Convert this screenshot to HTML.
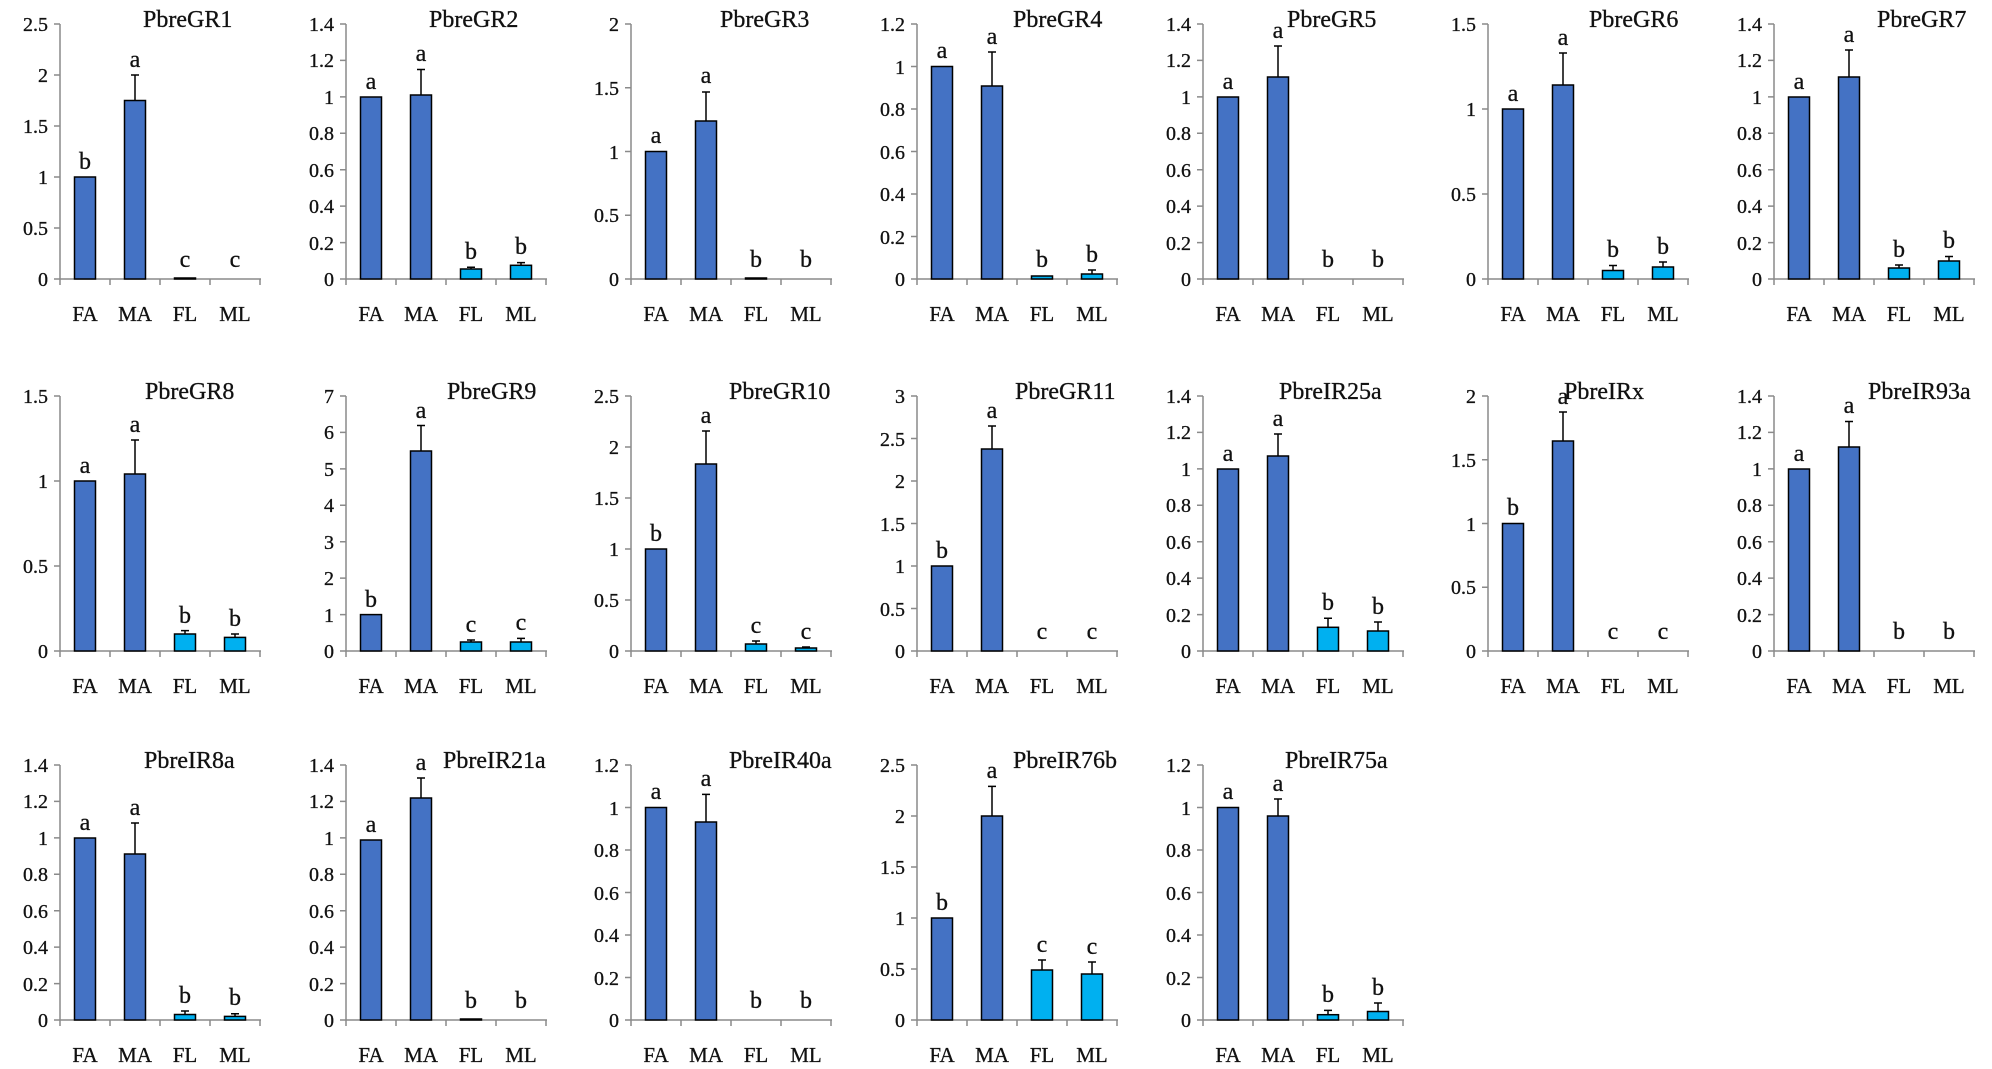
<!DOCTYPE html>
<html><head><meta charset="utf-8"><style>
body{margin:0;background:#fff}
svg{display:block;font-family:"Liberation Serif",serif}
text{fill:#111;stroke:#111;stroke-width:0.3}
.ax{fill:none;stroke:#8a8a8a;stroke-width:1.5}
.d{fill:#4472C4;stroke:#000;stroke-width:1.5}
.l{fill:#00B0F0;stroke:#000;stroke-width:1.5}
.e{fill:none;stroke:#000;stroke-width:1.5}
.yt{font-size:20px;text-anchor:end}
.xt{font-size:21px;text-anchor:middle}
.lt{font-size:24px;text-anchor:middle}
.tt{font-size:24px}
</style></head><body>
<svg width="1992" height="1069" viewBox="0 0 1992 1069" xmlns="http://www.w3.org/2000/svg">
<defs>
<g id="base">
<path class="ax" d="M0 -255V0H201M-6 0H0M0 0V6M50 0V6M100 0V6M150 0V6M200 0V6"/>
<text class="xt" x="25" y="42">FA</text><text class="xt" x="75" y="42">MA</text><text class="xt" x="125" y="42">FL</text><text class="xt" x="175" y="42">ML</text>
</g>
</defs>

<!-- GR1 -->
<g transform="translate(60,279)"><use href="#base"/>
<text class="tt" x="83" y="-252">PbreGR1</text>
<path class="ax" d="M-6 -51H0M-6 -102H0M-6 -153H0M-6 -204H0M-6 -255H0"/>
<text class="yt" x="-12" y="7">0</text><text class="yt" x="-12" y="-44">0.5</text><text class="yt" x="-12" y="-95">1</text><text class="yt" x="-12" y="-146">1.5</text><text class="yt" x="-12" y="-197">2</text><text class="yt" x="-12" y="-248">2.5</text>
<rect class="d" x="14.5" y="-102" width="21" height="102"/><rect class="d" x="64.5" y="-178.5" width="21" height="178.5"/><rect class="l" x="114.5" y="-1" width="21" height="1"/>
<path class="e" d="M75 -178.5V-204M71 -204H79"/>
<text class="lt" x="25" y="-110">b</text><text class="lt" x="75" y="-212">a</text><text class="lt" x="125" y="-12">c</text><text class="lt" x="175" y="-12">c</text>
</g>

<!-- GR2 -->
<g transform="translate(346,279)"><use href="#base"/>
<text class="tt" x="83" y="-252">PbreGR2</text>
<path class="ax" d="M-6 -36.4H0M-6 -72.9H0M-6 -109.3H0M-6 -145.7H0M-6 -182.1H0M-6 -218.6H0M-6 -255H0"/>
<text class="yt" x="-12" y="7">0</text><text class="yt" x="-12" y="-29">0.2</text><text class="yt" x="-12" y="-66">0.4</text><text class="yt" x="-12" y="-102">0.6</text><text class="yt" x="-12" y="-139">0.8</text><text class="yt" x="-12" y="-175">1</text><text class="yt" x="-12" y="-212">1.2</text><text class="yt" x="-12" y="-248">1.4</text>
<rect class="d" x="14.5" y="-182" width="21" height="182"/><rect class="d" x="64.5" y="-184" width="21" height="184"/><rect class="l" x="114.5" y="-10" width="21" height="10"/><rect class="l" x="164.5" y="-13.7" width="21" height="13.7"/>
<path class="e" d="M75 -184V-209.5M71 -209.5H79M125 -10V-11.8M121 -11.8H129M175 -13.7V-16.4M171 -16.4H179"/>
<text class="lt" x="25" y="-190">a</text><text class="lt" x="75" y="-218">a</text><text class="lt" x="125" y="-20">b</text><text class="lt" x="175" y="-25">b</text>
</g>

<!-- GR3 -->
<g transform="translate(631,279)"><use href="#base"/>
<text class="tt" x="89" y="-252">PbreGR3</text>
<path class="ax" d="M-6 -63.75H0M-6 -127.5H0M-6 -191.25H0M-6 -255H0"/>
<text class="yt" x="-12" y="7">0</text><text class="yt" x="-12" y="-57">0.5</text><text class="yt" x="-12" y="-120">1</text><text class="yt" x="-12" y="-184">1.5</text><text class="yt" x="-12" y="-248">2</text>
<rect class="d" x="14.5" y="-127.5" width="21" height="127.5"/><rect class="d" x="64.5" y="-158" width="21" height="158"/><rect class="l" x="114.5" y="-1" width="21" height="1"/>
<path class="e" d="M75 -158V-187M71 -187H79"/>
<text class="lt" x="25" y="-136">a</text><text class="lt" x="75" y="-196">a</text><text class="lt" x="125" y="-12">b</text><text class="lt" x="175" y="-12">b</text>
</g>

<!-- GR4 -->
<g transform="translate(917,279)"><use href="#base"/>
<text class="tt" x="96" y="-252">PbreGR4</text>
<path class="ax" d="M-6 -42.5H0M-6 -85H0M-6 -127.5H0M-6 -170H0M-6 -212.5H0M-6 -255H0"/>
<text class="yt" x="-12" y="7">0</text><text class="yt" x="-12" y="-35">0.2</text><text class="yt" x="-12" y="-78">0.4</text><text class="yt" x="-12" y="-120">0.6</text><text class="yt" x="-12" y="-163">0.8</text><text class="yt" x="-12" y="-205">1</text><text class="yt" x="-12" y="-248">1.2</text>
<rect class="d" x="14.5" y="-212.5" width="21" height="212.5"/><rect class="d" x="64.5" y="-193" width="21" height="193"/><rect class="l" x="114.5" y="-3" width="21" height="3"/><rect class="l" x="164.5" y="-5" width="21" height="5"/>
<path class="e" d="M75 -193V-227M71 -227H79M175 -5V-9M171 -9H179"/>
<text class="lt" x="25" y="-221">a</text><text class="lt" x="75" y="-235">a</text><text class="lt" x="125" y="-12">b</text><text class="lt" x="175" y="-17">b</text>
</g>

<!-- GR5 -->
<g transform="translate(1203,279)"><use href="#base"/>
<text class="tt" x="84" y="-252">PbreGR5</text>
<path class="ax" d="M-6 -36.4H0M-6 -72.9H0M-6 -109.3H0M-6 -145.7H0M-6 -182.1H0M-6 -218.6H0M-6 -255H0"/>
<text class="yt" x="-12" y="7">0</text><text class="yt" x="-12" y="-29">0.2</text><text class="yt" x="-12" y="-66">0.4</text><text class="yt" x="-12" y="-102">0.6</text><text class="yt" x="-12" y="-139">0.8</text><text class="yt" x="-12" y="-175">1</text><text class="yt" x="-12" y="-212">1.2</text><text class="yt" x="-12" y="-248">1.4</text>
<rect class="d" x="14.5" y="-182" width="21" height="182"/><rect class="d" x="64.5" y="-202" width="21" height="202"/>
<path class="e" d="M75 -202V-233M71 -233H79"/>
<text class="lt" x="25" y="-190">a</text><text class="lt" x="75" y="-241">a</text><text class="lt" x="125" y="-12">b</text><text class="lt" x="175" y="-12">b</text>
</g>

<!-- GR6 -->
<g transform="translate(1488,279)"><use href="#base"/>
<text class="tt" x="101" y="-252">PbreGR6</text>
<path class="ax" d="M-6 -85H0M-6 -170H0M-6 -255H0"/>
<text class="yt" x="-12" y="7">0</text><text class="yt" x="-12" y="-78">0.5</text><text class="yt" x="-12" y="-163">1</text><text class="yt" x="-12" y="-248">1.5</text>
<rect class="d" x="14.5" y="-170" width="21" height="170"/><rect class="d" x="64.5" y="-194" width="21" height="194"/><rect class="l" x="114.5" y="-8.5" width="21" height="8.5"/><rect class="l" x="164.5" y="-12" width="21" height="12"/>
<path class="e" d="M75 -194V-226M71 -226H79M125 -8.5V-13.5M121 -13.5H129M175 -12V-17M171 -17H179"/>
<text class="lt" x="25" y="-178">a</text><text class="lt" x="75" y="-234">a</text><text class="lt" x="125" y="-22">b</text><text class="lt" x="175" y="-25">b</text>
</g>

<!-- GR7 -->
<g transform="translate(1774,279)"><use href="#base"/>
<text class="tt" x="103" y="-252">PbreGR7</text>
<path class="ax" d="M-6 -36.4H0M-6 -72.9H0M-6 -109.3H0M-6 -145.7H0M-6 -182.1H0M-6 -218.6H0M-6 -255H0"/>
<text class="yt" x="-12" y="7">0</text><text class="yt" x="-12" y="-29">0.2</text><text class="yt" x="-12" y="-66">0.4</text><text class="yt" x="-12" y="-102">0.6</text><text class="yt" x="-12" y="-139">0.8</text><text class="yt" x="-12" y="-175">1</text><text class="yt" x="-12" y="-212">1.2</text><text class="yt" x="-12" y="-248">1.4</text>
<rect class="d" x="14.5" y="-182" width="21" height="182"/><rect class="d" x="64.5" y="-202" width="21" height="202"/><rect class="l" x="114.5" y="-11" width="21" height="11"/><rect class="l" x="164.5" y="-18" width="21" height="18"/>
<path class="e" d="M75 -202V-229M71 -229H79M125 -11V-14M121 -14H129M175 -18V-22.5M171 -22.5H179"/>
<text class="lt" x="25" y="-190">a</text><text class="lt" x="75" y="-237">a</text><text class="lt" x="125" y="-22">b</text><text class="lt" x="175" y="-31">b</text>
</g>

<!-- GR8 -->
<g transform="translate(60,651)"><use href="#base"/>
<text class="tt" x="85" y="-252">PbreGR8</text>
<path class="ax" d="M-6 -85H0M-6 -170H0M-6 -255H0"/>
<text class="yt" x="-12" y="7">0</text><text class="yt" x="-12" y="-78">0.5</text><text class="yt" x="-12" y="-163">1</text><text class="yt" x="-12" y="-248">1.5</text>
<rect class="d" x="14.5" y="-170" width="21" height="170"/><rect class="d" x="64.5" y="-177" width="21" height="177"/><rect class="l" x="114.5" y="-17" width="21" height="17"/><rect class="l" x="164.5" y="-13.6" width="21" height="13.6"/>
<path class="e" d="M75 -177V-211M71 -211H79M125 -17V-20.4M121 -20.4H129M175 -13.6V-17M171 -17H179"/>
<text class="lt" x="25" y="-178">a</text><text class="lt" x="75" y="-219">a</text><text class="lt" x="125" y="-28">b</text><text class="lt" x="175" y="-25">b</text>
</g>

<!-- GR9 -->
<g transform="translate(346,651)"><use href="#base"/>
<text class="tt" x="101" y="-252">PbreGR9</text>
<path class="ax" d="M-6 -36.4H0M-6 -72.9H0M-6 -109.3H0M-6 -145.7H0M-6 -182.1H0M-6 -218.6H0M-6 -255H0"/>
<text class="yt" x="-12" y="7">0</text><text class="yt" x="-12" y="-29">1</text><text class="yt" x="-12" y="-66">2</text><text class="yt" x="-12" y="-102">3</text><text class="yt" x="-12" y="-139">4</text><text class="yt" x="-12" y="-175">5</text><text class="yt" x="-12" y="-212">6</text><text class="yt" x="-12" y="-248">7</text>
<rect class="d" x="14.5" y="-36.4" width="21" height="36.4"/><rect class="d" x="64.5" y="-200" width="21" height="200"/><rect class="l" x="114.5" y="-9" width="21" height="9"/><rect class="l" x="164.5" y="-9" width="21" height="9"/>
<path class="e" d="M75 -200V-225.5M71 -225.5H79M125 -9V-11M121 -11H129M175 -9V-12.6M171 -12.6H179"/>
<text class="lt" x="25" y="-44">b</text><text class="lt" x="75" y="-233">a</text><text class="lt" x="125" y="-19">c</text><text class="lt" x="175" y="-21">c</text>
</g>

<!-- GR10 -->
<g transform="translate(631,651)"><use href="#base"/>
<text class="tt" x="98" y="-252">PbreGR10</text>
<path class="ax" d="M-6 -51H0M-6 -102H0M-6 -153H0M-6 -204H0M-6 -255H0"/>
<text class="yt" x="-12" y="7">0</text><text class="yt" x="-12" y="-44">0.5</text><text class="yt" x="-12" y="-95">1</text><text class="yt" x="-12" y="-146">1.5</text><text class="yt" x="-12" y="-197">2</text><text class="yt" x="-12" y="-248">2.5</text>
<rect class="d" x="14.5" y="-102" width="21" height="102"/><rect class="d" x="64.5" y="-187" width="21" height="187"/><rect class="l" x="114.5" y="-7" width="21" height="7"/><rect class="l" x="164.5" y="-3" width="21" height="3"/>
<path class="e" d="M75 -187V-220M71 -220H79M125 -7V-10M121 -10H129M175 -3V-4M171 -4H179"/>
<text class="lt" x="25" y="-110">b</text><text class="lt" x="75" y="-228">a</text><text class="lt" x="125" y="-18">c</text><text class="lt" x="175" y="-12">c</text>
</g>

<!-- GR11 -->
<g transform="translate(917,651)"><use href="#base"/>
<text class="tt" x="98" y="-252">PbreGR11</text>
<path class="ax" d="M-6 -42.5H0M-6 -85H0M-6 -127.5H0M-6 -170H0M-6 -212.5H0M-6 -255H0"/>
<text class="yt" x="-12" y="7">0</text><text class="yt" x="-12" y="-35">0.5</text><text class="yt" x="-12" y="-78">1</text><text class="yt" x="-12" y="-120">1.5</text><text class="yt" x="-12" y="-163">2</text><text class="yt" x="-12" y="-205">2.5</text><text class="yt" x="-12" y="-248">3</text>
<rect class="d" x="14.5" y="-85" width="21" height="85"/><rect class="d" x="64.5" y="-202" width="21" height="202"/>
<path class="e" d="M75 -202V-225M71 -225H79"/>
<text class="lt" x="25" y="-93">b</text><text class="lt" x="75" y="-233">a</text><text class="lt" x="125" y="-12">c</text><text class="lt" x="175" y="-12">c</text>
</g>

<!-- IR25a -->
<g transform="translate(1203,651)"><use href="#base"/>
<text class="tt" x="76" y="-252">PbreIR25a</text>
<path class="ax" d="M-6 -36.4H0M-6 -72.9H0M-6 -109.3H0M-6 -145.7H0M-6 -182.1H0M-6 -218.6H0M-6 -255H0"/>
<text class="yt" x="-12" y="7">0</text><text class="yt" x="-12" y="-29">0.2</text><text class="yt" x="-12" y="-66">0.4</text><text class="yt" x="-12" y="-102">0.6</text><text class="yt" x="-12" y="-139">0.8</text><text class="yt" x="-12" y="-175">1</text><text class="yt" x="-12" y="-212">1.2</text><text class="yt" x="-12" y="-248">1.4</text>
<rect class="d" x="14.5" y="-182" width="21" height="182"/><rect class="d" x="64.5" y="-195" width="21" height="195"/><rect class="l" x="114.5" y="-23.7" width="21" height="23.7"/><rect class="l" x="164.5" y="-20" width="21" height="20"/>
<path class="e" d="M75 -195V-217M71 -217H79M125 -23.7V-32.7M121 -32.7H129M175 -20V-29M171 -29H179"/>
<text class="lt" x="25" y="-190">a</text><text class="lt" x="75" y="-225">a</text><text class="lt" x="125" y="-41">b</text><text class="lt" x="175" y="-37">b</text>
</g>

<!-- IRx -->
<g transform="translate(1488,651)"><use href="#base"/>
<text class="tt" x="76" y="-252">PbreIRx</text>
<path class="ax" d="M-6 -63.75H0M-6 -127.5H0M-6 -191.25H0M-6 -255H0"/>
<text class="yt" x="-12" y="7">0</text><text class="yt" x="-12" y="-57">0.5</text><text class="yt" x="-12" y="-120">1</text><text class="yt" x="-12" y="-184">1.5</text><text class="yt" x="-12" y="-248">2</text>
<rect class="d" x="14.5" y="-127.5" width="21" height="127.5"/><rect class="d" x="64.5" y="-210" width="21" height="210"/>
<path class="e" d="M75 -210V-239M71 -239H79"/>
<text class="lt" x="25" y="-136">b</text><text class="lt" x="75" y="-247">a</text><text class="lt" x="125" y="-12">c</text><text class="lt" x="175" y="-12">c</text>
</g>

<!-- IR93a -->
<g transform="translate(1774,651)"><use href="#base"/>
<text class="tt" x="94" y="-252">PbreIR93a</text>
<path class="ax" d="M-6 -36.4H0M-6 -72.9H0M-6 -109.3H0M-6 -145.7H0M-6 -182.1H0M-6 -218.6H0M-6 -255H0"/>
<text class="yt" x="-12" y="7">0</text><text class="yt" x="-12" y="-29">0.2</text><text class="yt" x="-12" y="-66">0.4</text><text class="yt" x="-12" y="-102">0.6</text><text class="yt" x="-12" y="-139">0.8</text><text class="yt" x="-12" y="-175">1</text><text class="yt" x="-12" y="-212">1.2</text><text class="yt" x="-12" y="-248">1.4</text>
<rect class="d" x="14.5" y="-182" width="21" height="182"/><rect class="d" x="64.5" y="-204" width="21" height="204"/>
<path class="e" d="M75 -204V-229.5M71 -229.5H79"/>
<text class="lt" x="25" y="-190">a</text><text class="lt" x="75" y="-238">a</text><text class="lt" x="125" y="-12">b</text><text class="lt" x="175" y="-12">b</text>
</g>

<!-- IR8a -->
<g transform="translate(60,1020)"><use href="#base"/>
<text class="tt" x="84" y="-252">PbreIR8a</text>
<path class="ax" d="M-6 -36.4H0M-6 -72.9H0M-6 -109.3H0M-6 -145.7H0M-6 -182.1H0M-6 -218.6H0M-6 -255H0"/>
<text class="yt" x="-12" y="7">0</text><text class="yt" x="-12" y="-29">0.2</text><text class="yt" x="-12" y="-66">0.4</text><text class="yt" x="-12" y="-102">0.6</text><text class="yt" x="-12" y="-139">0.8</text><text class="yt" x="-12" y="-175">1</text><text class="yt" x="-12" y="-212">1.2</text><text class="yt" x="-12" y="-248">1.4</text>
<rect class="d" x="14.5" y="-182" width="21" height="182"/><rect class="d" x="64.5" y="-166" width="21" height="166"/><rect class="l" x="114.5" y="-5.5" width="21" height="5.5"/><rect class="l" x="164.5" y="-3.6" width="21" height="3.6"/>
<path class="e" d="M75 -166V-197M71 -197H79M125 -5.5V-9M121 -9H129M175 -3.6V-6.3M171 -6.3H179"/>
<text class="lt" x="25" y="-190">a</text><text class="lt" x="75" y="-205">a</text><text class="lt" x="125" y="-17">b</text><text class="lt" x="175" y="-15">b</text>
</g>

<!-- IR21a -->
<g transform="translate(346,1020)"><use href="#base"/>
<text class="tt" x="97" y="-252">PbreIR21a</text>
<path class="ax" d="M-6 -36.4H0M-6 -72.9H0M-6 -109.3H0M-6 -145.7H0M-6 -182.1H0M-6 -218.6H0M-6 -255H0"/>
<text class="yt" x="-12" y="7">0</text><text class="yt" x="-12" y="-29">0.2</text><text class="yt" x="-12" y="-66">0.4</text><text class="yt" x="-12" y="-102">0.6</text><text class="yt" x="-12" y="-139">0.8</text><text class="yt" x="-12" y="-175">1</text><text class="yt" x="-12" y="-212">1.2</text><text class="yt" x="-12" y="-248">1.4</text>
<rect class="d" x="14.5" y="-180" width="21" height="180"/><rect class="d" x="64.5" y="-222" width="21" height="222"/><rect class="l" x="114.5" y="-1" width="21" height="1"/>
<path class="e" d="M75 -222V-242M71 -242H79"/>
<text class="lt" x="25" y="-188">a</text><text class="lt" x="75" y="-250">a</text><text class="lt" x="125" y="-12">b</text><text class="lt" x="175" y="-12">b</text>
</g>

<!-- IR40a -->
<g transform="translate(631,1020)"><use href="#base"/>
<text class="tt" x="98" y="-252">PbreIR40a</text>
<path class="ax" d="M-6 -42.5H0M-6 -85H0M-6 -127.5H0M-6 -170H0M-6 -212.5H0M-6 -255H0"/>
<text class="yt" x="-12" y="7">0</text><text class="yt" x="-12" y="-35">0.2</text><text class="yt" x="-12" y="-78">0.4</text><text class="yt" x="-12" y="-120">0.6</text><text class="yt" x="-12" y="-163">0.8</text><text class="yt" x="-12" y="-205">1</text><text class="yt" x="-12" y="-248">1.2</text>
<rect class="d" x="14.5" y="-212.5" width="21" height="212.5"/><rect class="d" x="64.5" y="-198" width="21" height="198"/>
<path class="e" d="M75 -198V-225.6M71 -225.6H79"/>
<text class="lt" x="25" y="-221">a</text><text class="lt" x="75" y="-234">a</text><text class="lt" x="125" y="-12">b</text><text class="lt" x="175" y="-12">b</text>
</g>

<!-- IR76b -->
<g transform="translate(917,1020)"><use href="#base"/>
<text class="tt" x="96" y="-252">PbreIR76b</text>
<path class="ax" d="M-6 -51H0M-6 -102H0M-6 -153H0M-6 -204H0M-6 -255H0"/>
<text class="yt" x="-12" y="7">0</text><text class="yt" x="-12" y="-44">0.5</text><text class="yt" x="-12" y="-95">1</text><text class="yt" x="-12" y="-146">1.5</text><text class="yt" x="-12" y="-197">2</text><text class="yt" x="-12" y="-248">2.5</text>
<rect class="d" x="14.5" y="-102" width="21" height="102"/><rect class="d" x="64.5" y="-204" width="21" height="204"/><rect class="l" x="114.5" y="-50" width="21" height="50"/><rect class="l" x="164.5" y="-46" width="21" height="46"/>
<path class="e" d="M75 -204V-233.6M71 -233.6H79M125 -50V-60M121 -60H129M175 -46V-58M171 -58H179"/>
<text class="lt" x="25" y="-110">b</text><text class="lt" x="75" y="-242">a</text><text class="lt" x="125" y="-68">c</text><text class="lt" x="175" y="-66">c</text>
</g>

<!-- IR75a -->
<g transform="translate(1203,1020)"><use href="#base"/>
<text class="tt" x="82" y="-252">PbreIR75a</text>
<path class="ax" d="M-6 -42.5H0M-6 -85H0M-6 -127.5H0M-6 -170H0M-6 -212.5H0M-6 -255H0"/>
<text class="yt" x="-12" y="7">0</text><text class="yt" x="-12" y="-35">0.2</text><text class="yt" x="-12" y="-78">0.4</text><text class="yt" x="-12" y="-120">0.6</text><text class="yt" x="-12" y="-163">0.8</text><text class="yt" x="-12" y="-205">1</text><text class="yt" x="-12" y="-248">1.2</text>
<rect class="d" x="14.5" y="-212.5" width="21" height="212.5"/><rect class="d" x="64.5" y="-204" width="21" height="204"/><rect class="l" x="114.5" y="-5.3" width="21" height="5.3"/><rect class="l" x="164.5" y="-8.5" width="21" height="8.5"/>
<path class="e" d="M75 -204V-221M71 -221H79M125 -5.3V-9.6M121 -9.6H129M175 -8.5V-17M171 -17H179"/>
<text class="lt" x="25" y="-221">a</text><text class="lt" x="75" y="-229">a</text><text class="lt" x="125" y="-18">b</text><text class="lt" x="175" y="-25">b</text>
</g>
</svg>
</body></html>
